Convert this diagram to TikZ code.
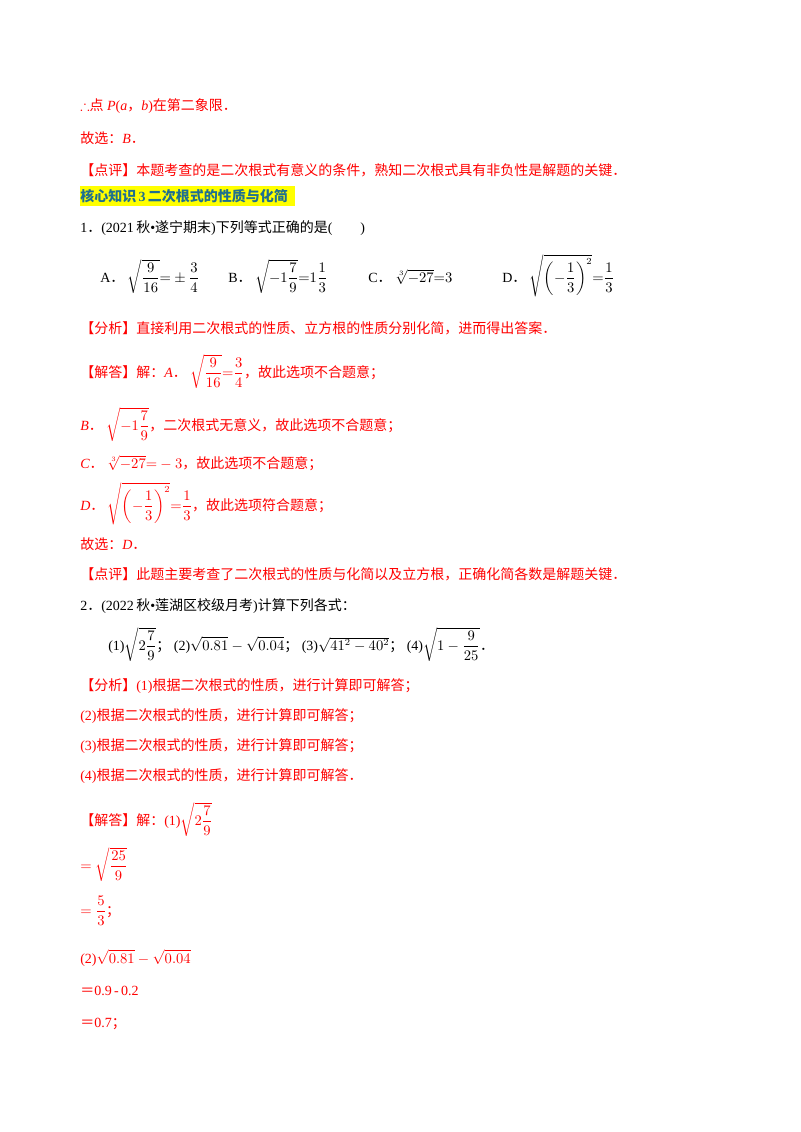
\documentclass[tikz,border=0pt]{standalone}
\usepackage{amsmath,amssymb}
\usepackage{fontspec}
\setmainfont{Liberation Serif}
\newfontfamily\zh{Noto Sans CJK SC}
\definecolor{rd}{HTML}{FF0000}
\definecolor{hd}{HTML}{1F6F8F}
\definecolor{hl}{HTML}{FFFF00}
\newcommand{\Z}[1]{{\zh #1}}
\newcommand{\Dt}{\Z{．}}
\begin{document}
\begin{tikzpicture}[x=0.75pt,y=-0.75pt,
  ln/.style={anchor=base west,inner sep=0pt,font=\fontsize{10.5}{12}\selectfont},
  r/.style={ln,text=rd}]
\useasboundingbox (0,0) rectangle (800,1132);
\node[r] (l1) at (80,110) {$\therefore$\Z{点} \textit{P}(\textit{a}\Z{，}\textit{b})\Z{在第二象限．}};
\node[r] (l2) at (80,143) {\Z{故选：}\textit{B}\Dt};
\node[r] (l3) at (80,175) {\Z{【点评】本题考查的是二次根式有意义的条件，熟知二次根式具有非负性是解题的关键．}};
\fill[hl] (80,186) rectangle (295,206);
\node[ln,text=hd,font=\bfseries\fontsize{10.5}{12}\selectfont] (h) at (80,201) {\Z{核心知识}\,3\,\Z{二次根式的性质与化简}};
\node[ln] (q1) at (80,232) {1\Dt(2021\,\Z{秋}•\Z{遂宁期末})\Z{下列等式正确的是}(\qquad)};
\node[ln] (oa) at (100,282) {A\Dt\ $\sqrt{\dfrac{9}{16}}{=}\pm\dfrac{3}{4}$};
\node[ln] (ob) at (228,282) {B\Dt\ $\sqrt{-1\dfrac{7}{9}}{=}1\dfrac{1}{3}$};
\node[ln] (oc) at (368,282) {C\Dt\ $\sqrt[3]{-27}{=}3$};
\node[ln] (od) at (502,282) {D\Dt\ $\sqrt{\left(-\dfrac{1}{3}\right)^2}{=}\dfrac{1}{3}$};
\node[r] (fx) at (80,333) {\Z{【分析】直接利用二次根式的性质、立方根的性质分别化简，进而得出答案．}};
\node[r] (ja) at (80,377) {\Z{【解答】解：}\textit{A}\Dt\ $\sqrt{\dfrac{9}{16}}{=}\dfrac{3}{4}$\Z{，故此选项不合题意；}};
\node[r] (jb) at (80,430) {\textit{B}\Dt\ $\sqrt{-1\dfrac{7}{9}}$\Z{，二次根式无意义，故此选项不合题意；}};
\node[r] (jc) at (80,468) {\textit{C}\Dt\ $\sqrt[3]{-27}{=}-3$\Z{，故此选项不合题意；}};
\node[r] (jd) at (80,510) {\textit{D}\Dt\ $\sqrt{\left(-\dfrac{1}{3}\right)^2}{=}\dfrac{1}{3}$\Z{，故此选项符合题意；}};
\node[r] (gx) at (80,549) {\Z{故选：}\textit{D}\Dt};
\node[r] (dp) at (80,579) {\Z{【点评】此题主要考查了二次根式的性质与化简以及立方根，正确化简各数是解题关键．}};
\node[ln] (q2) at (80,610) {2\Dt(2022\,\Z{秋}•\Z{莲湖区校级月考})\Z{计算下列各式：}};
\node[ln] (q2e) at (108,650) {(1)$\sqrt{2\dfrac{7}{9}}$\Z{；}\ (2)$\sqrt{0.81}-\sqrt{0.04}$\Z{；}\ (3)$\sqrt{41^2-40^2}$\Z{；}\ (4)$\sqrt{1-\dfrac{9}{25}}$\Dt};
\node[r] (f1) at (80,690) {\Z{【分析】}(1)\Z{根据二次根式的性质，进行计算即可解答；}};
\node[r] (f2) at (80,720) {(2)\Z{根据二次根式的性质，进行计算即可解答；}};
\node[r] (f3) at (80,750) {(3)\Z{根据二次根式的性质，进行计算即可解答；}};
\node[r] (f4) at (80,780) {(4)\Z{根据二次根式的性质，进行计算即可解答．}};
\node[r] (s1) at (80,825) {\Z{【解答】解：}(1)$\sqrt{2\dfrac{7}{9}}$};
\node[r] (s2) at (80,870) {$=\sqrt{\dfrac{25}{9}}$};
\node[r] (s3) at (80,915) {$=\dfrac{5}{3}$\Z{；}};
\node[r] (s4) at (80,963) {(2)$\sqrt{0.81}-\sqrt{0.04}$};
\node[r] (s5) at (80,995) {\Z{＝}0.9\,-\,0.2};
\node[r] (s6) at (80,1027) {\Z{＝}0.7\Z{；}};
\end{tikzpicture}
\end{document}
